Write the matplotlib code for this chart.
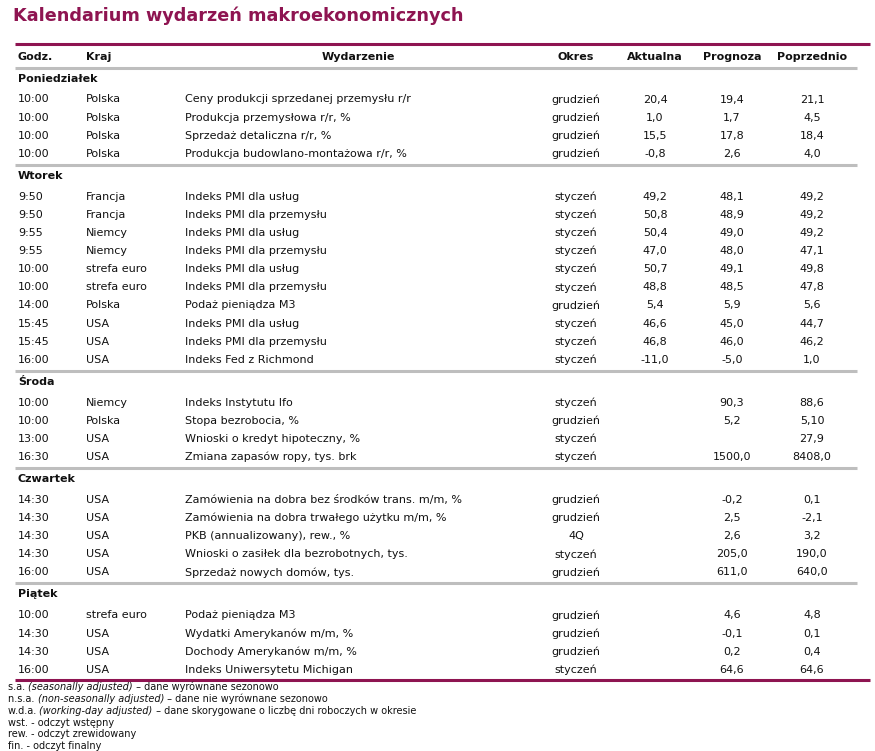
import matplotlib
matplotlib.use("Agg")
import matplotlib.pyplot as plt

title = "Kalendarium wydarzeń makroekonomicznych"
headers = ["Godz.", "Kraj", "Wydarzenie", "Okres", "Aktualna", "Prognoza", "Poprzednio"]

days = ["Poniedziałek", "Wtorek", "Środa", "Czwartek", "Piątek"]

times = [
    ["10:00", "10:00", "10:00", "10:00"],
    ["9:50", "9:50", "9:55", "9:55", "10:00", "10:00", "14:00", "15:45", "15:45", "16:00"],
    ["10:00", "10:00", "13:00", "16:30"],
    ["14:30", "14:30", "14:30", "14:30", "16:00"],
    ["10:00", "14:30", "14:30", "16:00"],
]
countries = [
    ["Polska", "Polska", "Polska", "Polska"],
    ["Francja", "Francja", "Niemcy", "Niemcy", "strefa euro", "strefa euro", "Polska", "USA", "USA", "USA"],
    ["Niemcy", "Polska", "USA", "USA"],
    ["USA", "USA", "USA", "USA", "USA"],
    ["strefa euro", "USA", "USA", "USA"],
]
events = [
    ["Ceny produkcji sprzedanej przemysłu r/r", "Produkcja przemysłowa r/r, %",
     "Sprzedaż detaliczna r/r, %", "Produkcja budowlano-montażowa r/r, %"],
    ["Indeks PMI dla usług", "Indeks PMI dla przemysłu", "Indeks PMI dla usług",
     "Indeks PMI dla przemysłu", "Indeks PMI dla usług", "Indeks PMI dla przemysłu",
     "Podaż pieniądza M3", "Indeks PMI dla usług", "Indeks PMI dla przemysłu",
     "Indeks Fed z Richmond"],
    ["Indeks Instytutu Ifo", "Stopa bezrobocia, %", "Wnioski o kredyt hipoteczny, %",
     "Zmiana zapasów ropy, tys. brk"],
    ["Zamówienia na dobra bez środków trans. m/m, %", "Zamówienia na dobra trwałego użytku m/m, %",
     "PKB (annualizowany), rew., %", "Wnioski o zasiłek dla bezrobotnych, tys.",
     "Sprzedaż nowych domów, tys."],
    ["Podaż pieniądza M3", "Wydatki Amerykanów m/m, %", "Dochody Amerykanów m/m, %",
     "Indeks Uniwersytetu Michigan"],
]
periods = [
    ["grudzień"] * 4,
    ["styczeń"] * 6 + ["grudzień"] + ["styczeń"] * 3,
    ["styczeń", "grudzień", "styczeń", "styczeń"],
    ["grudzień", "grudzień", "4Q", "styczeń", "grudzień"],
    ["grudzień", "grudzień", "grudzień", "styczeń"],
]
actual = [
    ["20,4", "1,0", "15,5", "-0,8"],
    ["49,2", "50,8", "50,4", "47,0", "50,7", "48,8", "5,4", "46,6", "46,8", "-11,0"],
    ["", "", "", ""],
    ["", "", "", "", ""],
    ["", "", "", ""],
]
forecast = [
    ["19,4", "1,7", "17,8", "2,6"],
    ["48,1", "48,9", "49,0", "48,0", "49,1", "48,5", "5,9", "45,0", "46,0", "-5,0"],
    ["90,3", "5,2", "", "1500,0"],
    ["-0,2", "2,5", "2,6", "205,0", "611,0"],
    ["4,6", "-0,1", "0,2", "64,6"],
]
previous = [
    ["21,1", "4,5", "18,4", "4,0"],
    ["49,2", "49,2", "49,2", "47,1", "49,8", "47,8", "5,6", "44,7", "46,2", "1,0"],
    ["88,6", "5,10", "27,9", "8408,0"],
    ["0,1", "-2,1", "3,2", "190,0", "640,0"],
    ["4,8", "0,1", "0,4", "64,6"],
]
footnotes = [
    ("s.a. ", "(seasonally adjusted)", " – dane wyrównane sezonowo"),
    ("n.s.a. ", "(non-seasonally adjusted)", " – dane nie wyrównane sezonowo"),
    ("w.d.a. ", "(working-day adjusted)", " – dane skorygowane o liczbę dni roboczych w okresie"),
    ("wst. - odczyt wstępny", "", ""),
    ("rew. - odczyt zrewidowany", "", ""),
    ("fin. - odczyt finalny", "", ""),
]

W, H = 875, 751
MAROON = "#8E1451"
GRAY = "#BEBEBE"
TXT = "#111111"
FS = 8.0

fig = plt.figure(figsize=(W / 100, H / 100), dpi=100)
ax = fig.add_axes([0, 0, 1, 1])
ax.set_xlim(0, W)
ax.set_ylim(H, 0)
ax.axis("off")

ax.text(13, 16, title, fontsize=12.7, fontweight="bold", color=MAROON, va="center", ha="left")
ax.plot([15, 870], [44, 44], color=MAROON, lw=2.2, solid_capstyle="butt")

col_x = [18, 86, 185, 576, 655, 732, 812]
hdr_x = [18, 86, 358, 576, 655, 732, 812]
hdr_ha = ["left", "left", "center", "center", "center", "center", "center"]
for hx, ha, h in zip(hdr_x, hdr_ha, headers):
    ax.text(hx, 57, h, fontsize=FS, fontweight="bold", color=TXT, va="center", ha=ha)
ax.plot([15, 857], [67.5, 67.5], color=GRAY, lw=2.2, solid_capstyle="butt")

y = 78.5
step = 18.1
for d in range(len(days)):
    ax.text(18, y, days[d], fontsize=FS, fontweight="bold", color=TXT, va="center", ha="left")
    y += 21
    for i in range(len(times[d])):
        ax.text(col_x[0], y, times[d][i], fontsize=FS, color=TXT, va="center", ha="left")
        ax.text(col_x[1], y, countries[d][i], fontsize=FS, color=TXT, va="center", ha="left")
        ax.text(col_x[2], y, events[d][i], fontsize=FS, color=TXT, va="center", ha="left")
        ax.text(col_x[3], y, periods[d][i], fontsize=FS, color=TXT, va="center", ha="center")
        ax.text(col_x[4], y, actual[d][i], fontsize=FS, color=TXT, va="center", ha="center")
        ax.text(col_x[5], y, forecast[d][i], fontsize=FS, color=TXT, va="center", ha="center")
        ax.text(col_x[6], y, previous[d][i], fontsize=FS, color=TXT, va="center", ha="center")
        y += step
    last = y - step
    if d < len(days) - 1:
        ly = last + 11
        ax.plot([15, 857], [ly, ly], color=GRAY, lw=2.2, solid_capstyle="butt")
        y = ly + 11
    else:
        ly = last + 10.5
        ax.plot([15, 870], [ly, ly], color=MAROON, lw=2.2, solid_capstyle="butt")

fig.canvas.draw()
renderer = fig.canvas.get_renderer()

fy = 690.5
FFS = 7.05
for a, b, c in footnotes:
    x = 8
    for part, style in ((a, "normal"), (b, "italic"), (c, "normal")):
        if not part:
            continue
        t = ax.text(x, fy, part, fontsize=FFS, color=TXT, va="baseline", ha="left",
                    fontstyle=style)
        bb = t.get_window_extent(renderer)
        x = bb.x1
    fy += 11.7

fig.savefig("out.png", dpi=100, facecolor="white")
